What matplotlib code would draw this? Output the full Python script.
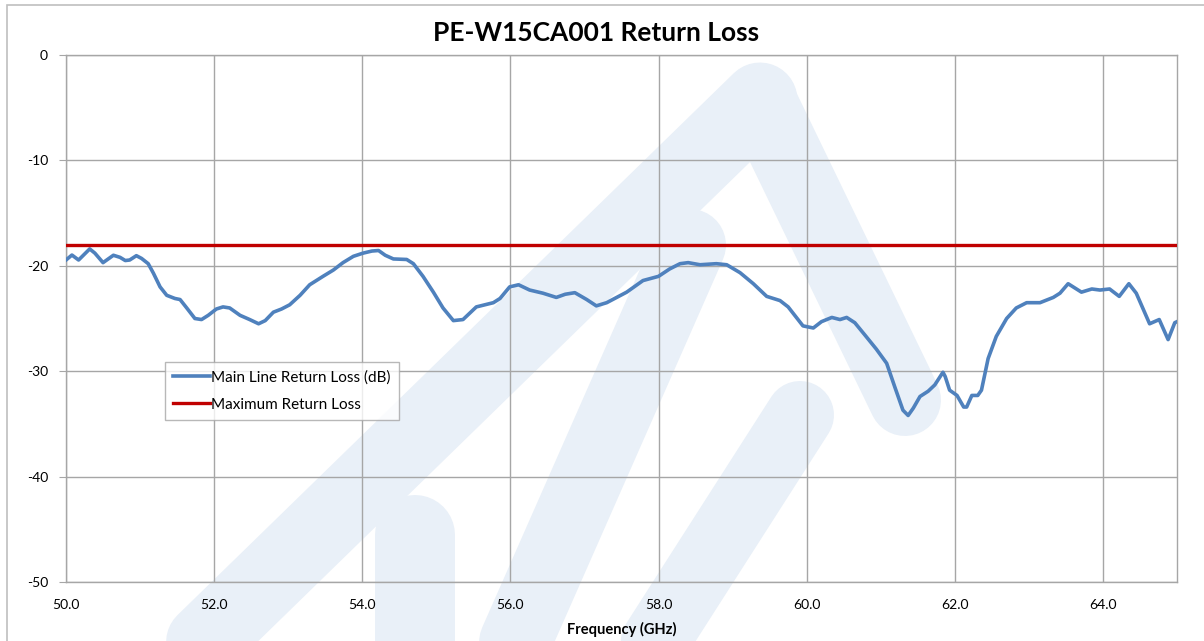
import matplotlib
matplotlib.use("Agg")
import matplotlib.pyplot as plt
from matplotlib.patches import Rectangle
from matplotlib.lines import Line2D

plt.rcParams['font.family'] = ['Lato', 'DejaVu Sans']

freq_ghz = [50.0, 50.08, 50.17, 50.32, 50.39, 50.50, 50.64, 50.73, 50.80, 50.86,
            50.95, 51.02, 51.11, 51.18, 51.27, 51.36, 51.47, 51.54, 51.63, 51.74,
            51.83, 51.92, 52.03, 52.12, 52.21, 52.35, 52.48, 52.60, 52.69, 52.80,
            52.91, 53.02, 53.16, 53.29, 53.47, 53.61, 53.74, 53.88, 54.01, 54.13,
            54.22, 54.31, 54.42, 54.60, 54.69, 54.82, 54.96, 55.09, 55.23, 55.36,
            55.54, 55.77, 55.86, 55.99, 56.11, 56.26, 56.44, 56.62, 56.74, 56.87,
            57.03, 57.16, 57.30, 57.57, 57.79, 58.00, 58.15, 58.29, 58.40, 58.56,
            58.78, 58.92, 59.10, 59.28, 59.46, 59.64, 59.75, 59.95, 60.09, 60.20,
            60.34, 60.45, 60.54, 60.65, 60.79, 60.94, 61.08, 61.19, 61.30, 61.37,
            61.44, 61.53, 61.64, 61.73, 61.84, 61.87, 61.93, 62.03, 62.12, 62.16,
            62.23, 62.31, 62.36, 62.45, 62.56, 62.70, 62.83, 62.97, 63.15, 63.33,
            63.42, 63.53, 63.71, 63.85, 63.96, 64.09, 64.22, 64.35, 64.45, 64.63,
            64.76, 64.88, 64.97, 65.0]
return_loss_db = [-19.45, -18.98, -19.45, -18.4, -18.8, -19.7, -19.0, -19.2, -19.5, -19.45,
                  -19.04, -19.3, -19.8, -20.7, -22.0, -22.8, -23.1, -23.2, -24.0, -25.0,
                  -25.1, -24.7, -24.1, -23.9, -24.0, -24.7, -25.1, -25.5, -25.2, -24.4,
                  -24.1, -23.7, -22.8, -21.8, -21.0, -20.4, -19.7, -19.1, -18.8, -18.6,
                  -18.55, -19.0, -19.35, -19.4, -19.8, -21.0, -22.5, -24.0, -25.2, -25.1,
                  -23.9, -23.5, -23.1, -22.0, -21.8, -22.3, -22.6, -23.0, -22.7, -22.55,
                  -23.2, -23.8, -23.5, -22.5, -21.4, -21.0, -20.3, -19.8, -19.7, -19.9,
                  -19.8, -19.9, -20.65, -21.7, -22.9, -23.3, -23.9, -25.7, -25.9, -25.3,
                  -24.9, -25.1, -24.9, -25.4, -26.6, -27.9, -29.25, -31.5, -33.7, -34.2,
                  -33.5, -32.4, -31.9, -31.3, -30.1, -30.5, -31.8, -32.3, -33.4, -33.4,
                  -32.3, -32.3, -31.8, -28.8, -26.7, -25.0, -24.0, -23.5, -23.5, -23.0,
                  -22.6, -21.7, -22.5, -22.2, -22.3, -22.2, -22.9, -21.7, -22.6, -25.5,
                  -25.1, -27.0, -25.4, -25.3]
max_return_loss_db = -18.0
x_ticks = [50, 52, 54, 56, 58, 60, 62, 64]
y_ticks = [0, -10, -20, -30, -40, -50]

W, H = 1204, 641
fig = plt.figure(figsize=(W / 100, H / 100), dpi=100)
fig.patch.set_facecolor('white')

# faint background watermark (decorative logo strokes, pixel coords)
wm_color = '#E9F0F8'
wm_strokes = [
    ([(180, 665), (760, 100)], 75),
    ([(760, 100), (905, 400)], 72),
    ([(505, 665), (690, 245)], 72),
    ([(640, 665), (800, 415)], 68),
    ([(415, 665), (415, 535)], 80),
]
for pts, wpx in wm_strokes:
    xs = [p[0] / W for p in pts]
    ys = [1 - p[1] / H for p in pts]
    fig.add_artist(Line2D(xs, ys, transform=fig.transFigure, color=wm_color,
                          linewidth=wpx * 0.72, solid_capstyle='round', zorder=0))

# outer chart border
fig.add_artist(Rectangle((7 / W, -0.1), 1.2, (H - 5) / H + 0.1, transform=fig.transFigure,
                         fill=False, edgecolor='#BFBFBF', linewidth=1.2, zorder=1))

ax = fig.add_axes([66 / W, (H - 582) / H, (1177 - 66) / W, (582 - 55) / H])
ax.set_facecolor('none')

ax.plot(freq_ghz, return_loss_db, color='#4F81BD', linewidth=2.6,
        label='Main Line Return Loss (dB)', solid_joinstyle='round', zorder=3)
ax.axhline(max_return_loss_db, color='#C00000', linewidth=2.4,
           label='Maximum Return Loss', zorder=3)

ax.set_xlim(50, 65)
ax.set_ylim(-50, 0)
ax.set_xticks(x_ticks)
ax.set_xticklabels([f'{v:.1f}' for v in x_ticks])
ax.set_yticks(y_ticks)
ax.set_yticklabels([str(v) for v in y_ticks])
ax.grid(True, color='#A6A6A6', linewidth=1.0)
ax.set_axisbelow(True)
for s in ax.spines.values():
    s.set_color('#A6A6A6')
    s.set_linewidth(1.0)
ax.tick_params(axis='y', length=5, color='#A6A6A6', labelsize=10, pad=8)
ax.tick_params(axis='x', length=0, labelsize=10, pad=12)

fig.text(596 / W, 1 - 33 / H, 'PE-W15CA001 Return Loss', fontsize=19, fontweight='bold',
         ha='center', va='center')
ax.set_xlabel('Frequency (GHz)', fontsize=10.5, fontweight='bold', labelpad=8)

leg = ax.legend(loc='upper left', bbox_to_anchor=(0.089, 0.4175), fontsize=11,
                frameon=True, fancybox=False, edgecolor='#A6A6A6', borderpad=0.55,
                handlelength=2.4, handletextpad=0.05, labelspacing=0.85, borderaxespad=0)
leg.get_frame().set_linewidth(1.0)

fig.savefig('out.png', dpi=100, facecolor='white')
